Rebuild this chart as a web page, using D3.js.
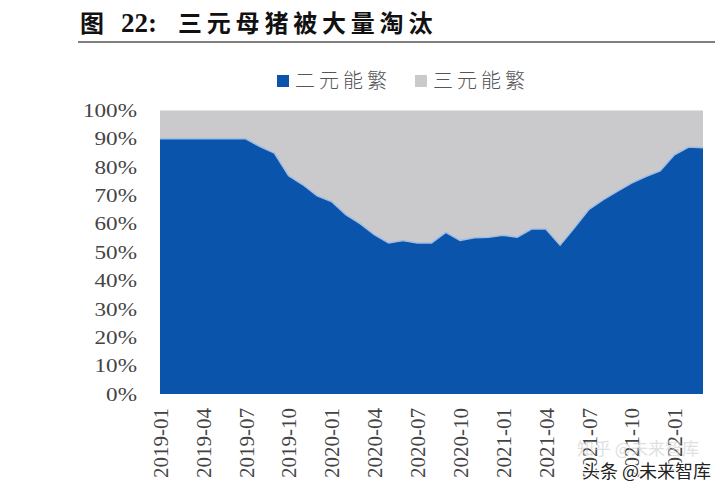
<!DOCTYPE html>
<html><head><meta charset="utf-8">
<script src="https://cdn.jsdelivr.net/npm/d3@7"></script>
<style>
body{margin:0;background:#fff;}
svg{display:block;}
</style></head>
<body><svg id="c" width="728" height="500"></svg>
<script>
const months = ["2019-01","2019-02","2019-03","2019-04","2019-05","2019-06","2019-07","2019-08","2019-09","2019-10","2019-11","2019-12",
"2020-01","2020-02","2020-03","2020-04","2020-05","2020-06","2020-07","2020-08","2020-09","2020-10","2020-11","2020-12",
"2021-01","2021-02","2021-03","2021-04","2021-05","2021-06","2021-07","2021-08","2021-09","2021-10","2021-11","2021-12",
"2022-01","2022-02","2022-03"];
const erYuan = [90,90,90,90,90,90,90,87.3,85.0,77.0,73.8,69.9,
67.9,63.3,60.1,56.2,53.3,54.1,53.3,53.3,57.0,54.2,55.1,55.3,
56.0,55.3,58.2,58.2,52.5,58.6,65.0,68.5,71.5,74.4,76.7,78.7,
84.4,87.1,86.9];
const sanYuan = erYuan.map(v => 100 - v);
const yTicks = [0,10,20,30,40,50,60,70,80,90,100];
const xTickLabels = months.filter((m,i) => i % 3 === 0);
const seriesNames = ["二元能繁","三元能繁"];
const colors = ["#0b54ac","#cacacc"];

const svg = d3.select("#c");
const L = 160, R = 703, T = 110.5, B = 394;
const x = d3.scalePoint().domain(months).range([L, R]);
const y = d3.scaleLinear().domain([0,100]).range([B, T]);

// title
const title = svg.append("text").attr("x", 80).attr("y", 32)
  .attr("font-family", "'Noto Sans CJK SC'").attr("font-weight", 700).attr("font-size", 24).attr("fill", "#111");
title.append("tspan").text("图");
title.append("tspan").attr("x", 121).attr("font-family", "'Liberation Serif'").attr("font-size", 27).text("22:");
title.append("tspan").attr("x", 178).attr("letter-spacing", 4.8).text("三元母猪被大量淘汰");
svg.append("line").attr("x1", 78).attr("x2", 715).attr("y1", 42).attr("y2", 42)
  .attr("stroke", "#555").attr("stroke-width", 1.5);

// legend
const lg = [{x:277, tx:295},{x:415, tx:433}];
seriesNames.forEach((n,i) => {
  svg.append("rect").attr("x", lg[i].x).attr("y", 75).attr("width", 12).attr("height", 12).attr("fill", colors[i]);
  svg.append("text").attr("x", lg[i].tx).attr("y", 88).attr("font-family", "'Noto Sans CJK SC'").attr("font-weight", 300)
    .attr("font-size", 20).attr("letter-spacing", 4).attr("fill", "#555").text(n);
});

// stacked areas
const stackData = months.map((m,i) => ({m, a: erYuan[i], b: sanYuan[i]}));
const stack = d3.stack().keys(["a","b"])(stackData);
const area = d3.area().x(d => x(d.data.m)).y0(d => y(d[0])).y1(d => y(d[1]));
svg.selectAll("path.area").data(stack).join("path").attr("class","area")
  .attr("d", area).attr("fill", (d,i) => colors[i]);
svg.append("path").datum(stackData)
  .attr("d", d3.line().x(d => x(d.m)).y(d => y(d.a)))
  .attr("fill", "none").attr("stroke", "#9fbde3").attr("stroke-width", 1.5);

// y axis
const sx = 1.22;
const ya = svg.append("g").attr("transform", `translate(${L},0)`)
  .call(d3.axisLeft(y).tickValues(yTicks).tickFormat(d => d + "%").tickSize(0));
ya.select(".domain").remove();
ya.selectAll("text").attr("font-family", "'Liberation Serif'").attr("font-size", 19).attr("fill", "#444")
  .attr("x", -23 / sx).attr("transform", `scale(${sx},1)`);

// x axis
const xa = svg.append("g").attr("transform", `translate(0,${B})`)
  .call(d3.axisBottom(x).tickValues(xTickLabels).tickSize(0));
xa.select(".domain").remove();
xa.selectAll("text").attr("font-family", "'Liberation Serif'").attr("font-size", 21).attr("fill", "#444")
  .attr("transform", "rotate(-90)").attr("text-anchor", "end").attr("dy", "0.35em").attr("x", -14).attr("y", 0);

// watermarks
svg.append("text").attr("x", 577).attr("y", 455).attr("font-family", "'Noto Sans CJK SC'").attr("font-size", 17)
  .attr("fill", "#ccc").attr("opacity", 0.6).text("知乎 @未来智库");
svg.append("text").attr("x", 582).attr("y", 478).attr("font-family", "'Noto Sans CJK SC'").attr("font-size", 18)
  .attr("fill", "#222").attr("stroke", "#fff").attr("stroke-width", 2.5).attr("paint-order", "stroke").text("头条 @未来智库");
</script></body></html>
